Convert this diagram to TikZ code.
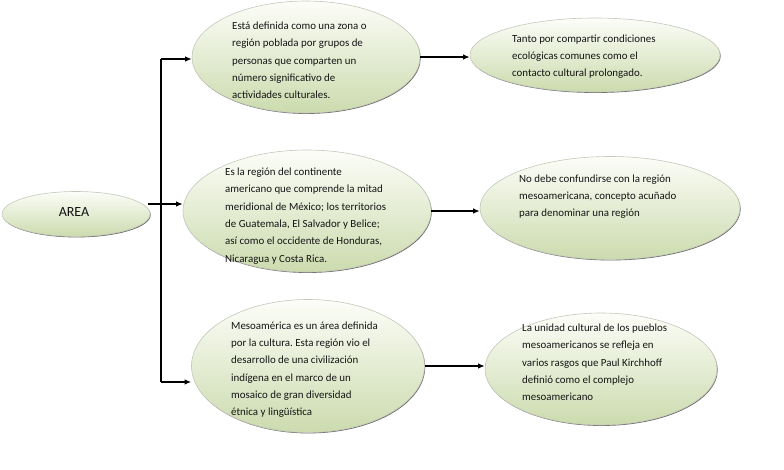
\documentclass[tikz,border=0pt]{standalone}
\usepackage{fontspec}
\setmainfont{Carlito}
\usetikzlibrary{shapes.geometric,shadows,arrows.meta}
\definecolor{topgreen}{RGB}{252,253,248}
\definecolor{botgreen}{RGB}{204,219,174}
\definecolor{rimgray}{RGB}{196,200,186}
\definecolor{txtcol}{RGB}{20,20,20}
\tikzset{
  bubble/.style={ellipse, draw=rimgray, line width=0.6pt, top color=topgreen, bottom color=botgreen,
    inner sep=0pt, drop shadow={shadow xshift=0.7pt, shadow yshift=-0.9pt, fill=black!65, opacity=0.9}},
  bubtext/.style={anchor=west, align=left, inner sep=0pt, text=txtcol, font=\fontsize{10.9}{17.3}\selectfont},
  link/.style={line width=1.3pt, draw=black},
  arr/.style={link, -{Latex[length=6.5pt,width=5.5pt]}}
}
\begin{document}
\frenchspacing
\begin{tikzpicture}[x=1pt,y=-1pt]
\useasboundingbox (0,0) rectangle (784,469);
% ellipses
\node[bubble, minimum width=148pt, minimum height=45pt] (area) at (76,214) {};
\node[bubble, minimum width=228pt, minimum height=112pt] (e1) at (306,57) {};
\node[bubble, minimum width=250pt, minimum height=74pt] (e2) at (595,55) {};
\node[bubble, minimum width=248pt, minimum height=122pt] (e3) at (307,211) {};
\node[bubble, minimum width=260pt, minimum height=103pt] (e4) at (610,208) {};
\node[bubble, minimum width=233pt, minimum height=133pt] (e5) at (308,366) {};
\node[bubble, minimum width=232pt, minimum height=112pt] (e6) at (601,369) {};
% texts
\node[text=txtcol, font=\fontsize{14}{16}\selectfont, inner sep=0pt] (tarea) at (74,212) {AREA};
\node[bubtext] (t1) at (232,60.5) {Está definida como una zona o\\región poblada por grupos de\\personas que comparten un\\número significativo de\\actividades culturales.};
\node[bubtext] (t2) at (512,56.5) {Tanto por compartir condiciones\\ecológicas comunes como el\\contacto cultural prolongado.};
\node[bubtext] (t3) at (225,216) {Es la región del continente\\americano que comprende la mitad\\meridional de México; los territorios\\de Guatemala, El Salvador y Belice;\\así como el occidente de Honduras,\\Nicaragua y Costa Rica.};
\node[bubtext] (t4) at (519,196.5) {No debe confundirse con la región\\mesoamericana, concepto acuñado\\para denominar una región};
\node[bubtext] (t5) at (231,369.5) {Mesoamérica es un área definida\\por la cultura. Esta región vio el\\desarrollo de una civilización\\indígena en el marco de un\\mosaico de gran diversidad\\étnica y lingüística};
\node[bubtext] (t6) at (522,362.5) {La unidad cultural de los pueblos\\mesoamericanos se refleja en\\varios rasgos que Paul Kirchhoff\\definió como el complejo\\mesoamericano};
% connectors
\coordinate (as) at (148,204);
\coordinate (jt) at (161,59);
\coordinate (jb) at (161,382);
\draw[link] (jt) -- (jb);
\draw[arr] (as) -- (as -| e3.west);
\draw[arr] (jt) -- (jt -| e1.west);
\draw[arr] (jb) -- (jb -| e5.west);
\draw[arr] (e1.east) -- (e1.east -| e2.west);
\draw[arr] (e3.east) -- (e3.east -| e4.west);
\draw[arr] (e5.east) -- (e5.east -| e6.west);
\end{tikzpicture}
\end{document}
